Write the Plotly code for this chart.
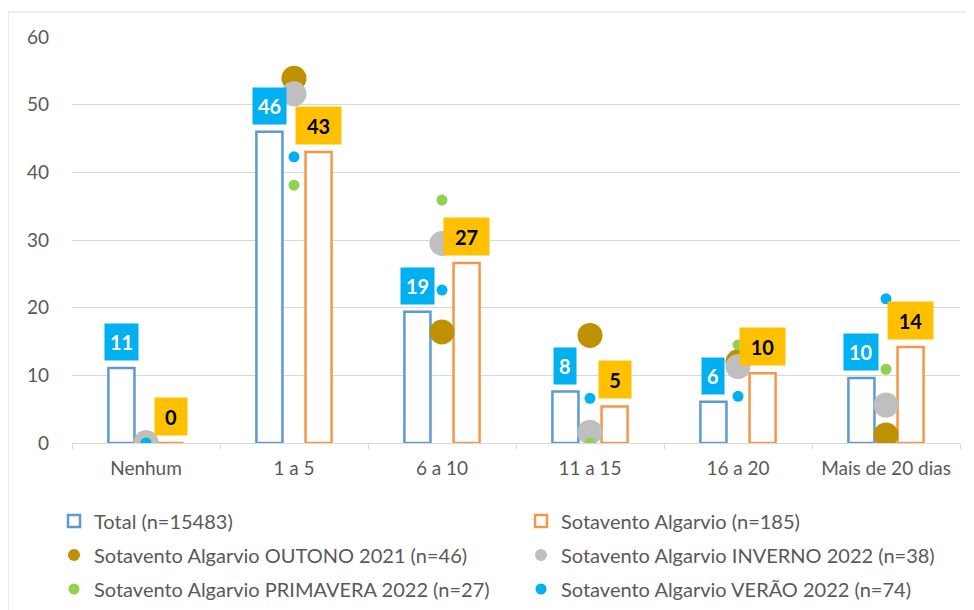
import plotly.graph_objects as go

categories = ["Nenhum", "1 a 5", "6 a 10", "11 a 15", "16 a 20", "Mais de 20 dias"]
total = [11.1, 46.0, 19.4, 7.6, 6.1, 9.6]
sotavento = [0.0, 43.0, 26.6, 5.4, 10.3, 14.2]
outono = [0.0, 53.9, 16.4, 15.9, 12.0, 1.2]
inverno = [0.0, 51.6, 29.5, 1.6, 11.3, 5.6]
primavera = [0.0, 38.1, 35.9, 0.0, 14.5, 10.9]
verao = [0.0, 42.3, 22.6, 6.6, 6.9, 21.3]

names = [
    "Total (n=15483)",
    "Sotavento Algarvio (n=185)",
    "Sotavento Algarvio OUTONO 2021 (n=46)",
    "Sotavento Algarvio INVERNO 2022 (n=38)",
    "Sotavento Algarvio PRIMAVERA 2022 (n=27)",
    "Sotavento Algarvio VERÃO 2022 (n=74)",
]

FONT = "Lato"
TXT = "#595959"
GRID = "#D9D9D9"

fig = go.Figure()
bw = 0.176
sep = 0.166
fig.add_trace(go.Bar(x=categories, y=total, name=names[0], width=bw, offset=-sep - bw / 2,
                     marker=dict(color="white", line=dict(color="#5B9BD5", width=2.5)),
                     legend="legend"))
fig.add_trace(go.Bar(x=categories, y=sotavento, name=names[1], width=bw, offset=sep - bw / 2,
                     marker=dict(color="white", line=dict(color="#F79646", width=2.5)),
                     legend="legend"))
fig.add_trace(go.Scatter(x=categories, y=outono, name=names[2], mode="markers",
                         marker=dict(color="#BF9000", size=25), legend="legend2"))
fig.add_trace(go.Scatter(x=categories, y=inverno, name=names[3], mode="markers",
                         marker=dict(color="#BFBFBF", size=25), legend="legend2"))
fig.add_trace(go.Scatter(x=categories, y=primavera, name=names[4], mode="markers",
                         marker=dict(color="#92D050", size=11), legend="legend3"))
fig.add_trace(go.Scatter(x=categories, y=verao, name=names[5], mode="markers",
                         marker=dict(color="#00B0F0", size=11), legend="legend3"))

# data labels
for c, v in zip(categories, total):
    fig.add_annotation(x=c, y=v, xref="x", yref="y", text=f"<b>{round(v)}</b>",
                       xshift=-sep * 888 / 6, yshift=7, yanchor="bottom", showarrow=False,
                       bgcolor="#00B0F0", borderpad=5, height=26,
                       font=dict(family=FONT, size=20, color="white"))
for c, v in zip(categories, sotavento):
    fig.add_annotation(x=c, y=v, xref="x", yref="y", text=f"<b>{round(v)}</b>",
                       xshift=sep * 888 / 6, yshift=7, yanchor="bottom", showarrow=False,
                       bgcolor="#FFC000", borderpad=5, height=27,
                       width=(35 if round(v) >= 10 else 22),
                       font=dict(family=FONT, size=20, color="black"))

# page offset (body margin of the html page is 8px)
OFF = 8

def lx(px):
    return (px - 72) / 888

def ly(py):
    return (443 - py) / 406

# chart border
fig.add_shape(type="rect", xref="paper", yref="paper",
              x0=lx(8), x1=lx(973), y0=ly(620), y1=ly(12),
              line=dict(color=GRID, width=1), fillcolor="rgba(0,0,0,0)", layer="below")

leg_common = dict(orientation="h", xanchor="left", yanchor="middle",
                  font=dict(family=FONT, size=20, color=TXT),
                  entrywidth=422, entrywidthmode="pixels",
                  bgcolor="rgba(0,0,0,0)", borderwidth=0)

fig.update_layout(
    width=974 - OFF, height=610 - OFF,
    margin=dict(l=72 - OFF, r=14, t=37 - OFF, b=167, autoexpand=False),
    paper_bgcolor="white", plot_bgcolor="white",
    barmode="overlay",
    font=dict(family=FONT, size=20, color=TXT),
    xaxis=dict(showgrid=False, showline=True, linecolor=GRID, linewidth=1,
               ticks="outside", tickson="boundaries", ticklen=5, tickcolor=GRID,
               tickfont=dict(family=FONT, size=19, color=TXT), ticklabelstandoff=8,
               fixedrange=True),
    yaxis=dict(range=[0, 60], dtick=10, showgrid=True, gridcolor=GRID, gridwidth=1,
               zeroline=False, showline=False,
               tickfont=dict(family=FONT, size=19, color=TXT), ticklabelstandoff=22,
               fixedrange=True),
    legend=dict(x=lx(54), y=ly(521), itemsizing="trace", **leg_common),
    legend2=dict(x=lx(54), y=ly(555), itemsizing="constant", **leg_common),
    legend3=dict(x=lx(54), y=ly(589), itemsizing="trace", **leg_common),
)

fig.write_html("out.html")
